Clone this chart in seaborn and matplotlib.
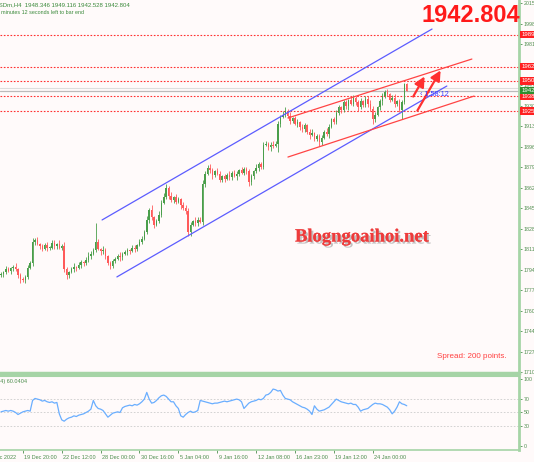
import numpy as np
import pandas as pd
import matplotlib
matplotlib.use('Agg')
import matplotlib.pyplot as plt
import matplotlib.transforms as mtrans
import matplotlib.patheffects as pe
import seaborn as sns

# --- data ---
symbol_line = "XAUUSDm,H4  1948.346 1949.116 1942.528 1942.804"
timer_line = "1 hours 58 minutes 12 seconds left to bar end"
rsi_label = "RSI(14) 60.0404"
last_price = 1942.804
ask_price = 1944.804
first_open = 1790.0

closes = [1791, 1793, 1795, 1794, 1796, 1797, 1795, 1790, 1787, 1786, 1789, 1796, 1800, 1818,
          1819, 1816, 1814, 1812, 1815, 1813, 1813, 1817, 1814, 1816, 1813, 1814,
          1795,
          1790, 1793, 1795, 1797, 1796, 1799, 1801, 1800, 1803, 1806, 1808, 1811,
          1818,
          1812, 1810, 1811, 1806, 1800, 1798,
          1802, 1804, 1806, 1805, 1808, 1809, 1811, 1810, 1813, 1812, 1815, 1818, 1820,
          1826, 1836, 1844, 1838, 1832, 1835, 1840, 1850, 1855,
          1862,
          1856, 1852, 1855, 1851, 1853, 1848, 1846, 1843,
          1826,
          1832, 1835, 1833, 1836, 1834,
          1866, 1874, 1879, 1877,
          1873, 1876, 1874, 1869, 1872, 1870, 1873, 1871, 1875, 1872, 1874, 1877, 1875, 1878, 1876,
          1867,
          1872, 1876, 1879, 1882, 1880,
          1898,
          1899, 1896, 1898, 1897, 1899,
          1915,
          1921, 1923, 1926,
          1922, 1918, 1920, 1915, 1917, 1913, 1911,
          1914, 1909, 1906, 1908, 1903, 1905, 1900,
          1904, 1909, 1907, 1913, 1919, 1917, 1924, 1929, 1927, 1933,
          1930, 1935, 1932, 1937, 1933, 1929, 1934, 1931, 1936, 1932, 1928,
          1919,
          1923, 1929, 1934, 1938, 1942, 1940, 1935, 1937, 1932, 1934, 1927, 1933, 1948.346, 1942.804]

wick_up = [2, 1, 3, 2, 1, 2, 3, 1, 2, 2, 1, 3, 2, 3,
           2, 3, 1, 2, 2, 3, 1, 2, 2, 1, 3, 2,
           4,
           2, 1, 2, 3, 1, 2, 2, 1, 2, 3, 2, 2,
           15,
           2, 1, 3, 2, 1, 2,
           2, 1, 2, 3, 1, 2, 2, 1, 2, 2, 1, 2, 3,
           2, 3, 2, 4, 1, 2, 3, 2, 3,
           4,
           2, 3, 1, 2, 2, 1, 3, 2,
           3,
           2, 1, 3, 2, 2,
           3, 2, 2, 3,
           2, 1, 3, 2, 1, 2, 2, 3, 1, 2, 2, 1, 3, 2, 2,
           2,
           2, 1, 3, 2, 2,
           2,
           2, 1, 2, 3, 2,
           3,
           2, 3, 3,
           2, 3, 1, 2, 2, 1, 2,
           2, 1, 2, 3, 1, 2, 2,
           2, 1, 3, 2, 1, 2, 3, 2, 1, 2,
           2, 1, 3, 2, 1, 2, 3, 1, 2, 2, 3,
           2,
           2, 1, 2, 3, 1, 2, 1, 2, 3, 1, 2, 2, 1, 0.77]

wick_dn = [1, 2, 2, 1, 3, 2, 1, 2, 3, 1, 2, 2, 1, 2,
           3, 1, 2, 2, 1, 3, 2, 1, 2, 2, 1, 2,
           2,
           3, 2, 1, 2, 2, 1, 3, 2, 1, 2, 2, 1,
           2,
           1, 3, 2, 2, 1, 3,
           2, 2, 1, 3, 2, 1, 2, 2, 1, 3, 2, 1, 2,
           1, 2, 3, 2, 3, 1, 2, 2, 1,
           2,
           3, 1, 2, 2, 1, 3, 2, 2,
           3,
           3, 1, 2, 2, 1,
           2, 3, 1, 2,
           3, 2, 1, 2, 2, 3, 1, 2, 2, 1, 3, 2, 1, 2, 2,
           3,
           2, 2, 1, 3, 2,
           2,
           1, 2, 3, 2, 1,
           7,
           2, 1, 2,
           2, 3, 2, 1, 2, 3, 2,
           2, 2, 3, 1, 2, 2, 3,
           2, 1, 2, 3, 1, 2, 2, 1, 3, 2,
           2, 3, 1, 2, 2, 3, 1, 2, 2, 3, 2,
           4,
           2, 1, 2, 3, 1, 2, 2, 1, 3, 2, 2, 8, 1, 0.28]

rsi = [51, 52, 53, 52, 53, 52, 50, 47,
       49, 51, 52, 53, 52,
       68, 71, 70, 69, 67, 68, 66, 65, 66, 64, 65,
       48, 39, 37,
       40, 42, 43, 45, 44, 46, 47, 48,
       50, 52, 55,
       68, 60, 56, 55, 53, 48, 43,
       46, 49, 50, 51, 50,
       57, 59, 60, 61, 60, 62, 61,
       63, 66, 70,
       80, 70, 64, 65, 68, 72, 75, 76, 74, 70, 66,
       66, 60, 56, 45, 43,
       47, 50, 52, 50, 51, 53,
       68, 67, 66, 65, 64, 63, 64, 64,
       65, 66, 67, 66, 67,
       68, 69, 70, 69, 66,
       56, 60, 64, 66, 67, 68, 70, 69, 71,
       76, 77, 80, 85, 84, 82, 83, 76, 71,
       70, 69, 66, 64,
       62, 60, 58, 57, 55, 52,
       47, 60, 55, 52,
       53, 54, 56, 58, 62, 66,
       70, 68, 66, 65, 64, 63, 64, 62, 62, 58, 52, 54, 55, 56, 59, 62,
       64, 63, 63, 62, 60, 58, 54, 48, 52, 58, 66, 63, 62, 60.04]

levels = [1989.0, 1962.6, 1950.9, 1938.0, 1925.9]
price_ticks = [1710.10, 1727.05, 1744.00, 1760.95, 1777.90, 1794.85, 1811.80, 1828.75,
               1845.70, 1862.65, 1879.60, 1896.55, 1913.50, 1930.45, 1947.40, 1964.35,
               1981.30, 1998.25, 2015.20]
rsi_ticks = [0, 30, 50, 70, 100]
rsi_grid = [30, 50, 70]

date_labels = ["16 Dec 2022", "19 Dec 20:00", "22 Dec 12:00", "28 Dec 00:00", "30 Dec 16:00",
               "5 Jan 04:00", "9 Jan 16:00", "12 Jan 08:00", "16 Jan 23:00", "19 Jan 12:00",
               "24 Jan 00:00"]
date_bars = [-7, 9, 25, 41, 57, 73, 89, 105, 121, 137, 153]

# trend lines as (bars, prices)
blue_upper = ([41.6, 177.4], [1835.9, 1993.7])
blue_lower = ([47.7, 183.5], [1788.8, 1946.6])
red_upper = ([118.1, 193.8], [1920.2, 1968.9])
red_lower = ([118.1, 194.7], [1887.9, 1938.3])
arrows = [((169.1, 1935.9), (174.9, 1956.5)), ((170.8, 1924.3), (181.5, 1961.5))]

# --- frame ---
n = len(closes)
df = pd.DataFrame({'bar': np.arange(n), 'close': closes, 'rsi': rsi})
df['open'] = [first_open] + closes[:-1]
df['high'] = df[['open', 'close']].max(axis=1) + np.array(wick_up)
df['low'] = df[['open', 'close']].min(axis=1) - np.array(wick_dn)
df['bull'] = df['close'] >= df['open']

# --- style ---
sns.set_theme(style='white')
bg = '#fffafa'
axis_green = '#a6d4a6'
label_green = '#4e8e4e'
plt.rcParams['font.family'] = ['Liberation Sans', 'DejaVu Sans']

W, H = 534, 462
fig = plt.figure(figsize=(W / 100, H / 100), dpi=100, facecolor=bg)
ax = fig.add_axes([0, 89 / H, 519 / W, 373 / H], facecolor=bg)
rax = fig.add_axes([0, 12 / H, 519 / W, 74 / H], facecolor=bg)

def fx(px):
    return px / W

def fy(py):
    return 1 - py / H

# --- candles ---
bull_c, bear_c = '#4a9e4a', '#ff5a5a'
cols = np.where(df['bull'], bull_c, bear_c)
ax.vlines(df['bar'], df['low'], df['high'], colors=cols, lw=0.6, zorder=3)
ax.bar(df['bar'], (df['close'] - df['open']).abs().clip(lower=0.4),
       bottom=df[['open', 'close']].min(axis=1), width=0.6, color=cols,
       linewidth=0, zorder=3)

# horizontal levels
for lv in levels:
    ax.axhline(lv, color='#ff3030', ls=(0, (1.5, 1.5)), lw=0.8, zorder=2)
ax.axhline(ask_price, color='#dddddd', lw=0.8, zorder=2)
ax.axhline(last_price, color='#bbbbbb', lw=0.9, zorder=2)

# channels
for xs, ys in (blue_upper, blue_lower):
    ax.plot(xs, ys, color='#5c5cff', lw=0.9, zorder=4)
for xs, ys in (red_upper, red_lower):
    ax.plot(xs, ys, color='#ff4444', lw=0.9, zorder=4)
for start, end in arrows:
    ax.annotate('', xy=end, xytext=start,
                arrowprops=dict(arrowstyle='-|>,head_length=0.5,head_width=0.25',
                                color='#ff3030', lw=1.6), zorder=5)

ax.text(172.5, 1939.3, '\u2039 1:58:12', color='#3a3aff', fontsize=5.2,
        va='center', ha='left', zorder=6)

ax.set_xlim(-0.41, 213.2)
ax.set_ylim(1709.4, 2017.7)
ax.set_xticks([])
ax.yaxis.tick_right()
ax.set_yticks(price_ticks)
ax.set_yticklabels([f"{t:.2f}" for t in price_ticks])
ax.tick_params(axis='y', length=2, width=0.6, color=label_green, labelsize=3.8,
               labelcolor=label_green, pad=1.5, right=True)
for s in ['top', 'left']:
    ax.spines[s].set_visible(False)
ax.spines['right'].set_color(axis_green)
ax.spines['right'].set_linewidth(2)
ax.spines['bottom'].set_color(axis_green)
ax.spines['bottom'].set_linewidth(2.5)

# price boxes on the axis
tr = mtrans.blended_transform_factory(ax.transAxes, ax.transData)
for lv in levels:
    ax.text(1.005, lv, f"{lv:.2f}", transform=tr, fontsize=4.3, color='white',
            va='center', ha='left', zorder=7,
            bbox=dict(boxstyle='square,pad=0.2', fc='#ff2020', ec='none'))
ax.text(1.005, last_price, f"{last_price:.2f}", transform=tr, fontsize=4.3, color='white',
        va='center', ha='left', zorder=7,
        bbox=dict(boxstyle='square,pad=0.2', fc='#2f8f2f', ec='none'))

# --- RSI panel ---
sns.lineplot(data=df, x='bar', y='rsi', ax=rax, color='#6aaeff', lw=0.9)
for g in rsi_grid:
    rax.axhline(g, color='#cccccc', ls=(0, (2, 2)), lw=0.6, zorder=1)
rax.set_xlim(-0.41, 213.2)
rax.set_ylim(-6, 104.5)
rax.set_xlabel('')
rax.set_ylabel('')
rax.yaxis.tick_right()
rax.set_yticks(rsi_ticks)
rax.set_yticklabels([str(t) for t in rsi_ticks])
rax.tick_params(axis='y', length=2, width=0.6, color=label_green, labelsize=3.8,
                labelcolor=label_green, pad=1.5, right=True)
rax.set_xticks(date_bars[1:])
rax.set_xticklabels([])
rax.tick_params(axis='x', length=2.5, width=0.6, color=label_green, bottom=True, direction='out')
rax.spines['left'].set_visible(False)
rax.spines['top'].set_color(axis_green)
rax.spines['top'].set_linewidth(1.5)
rax.spines['right'].set_color(axis_green)
rax.spines['right'].set_linewidth(2)
rax.spines['bottom'].set_color(axis_green)
rax.spines['bottom'].set_linewidth(1.2)

trx = mtrans.blended_transform_factory(rax.transData, rax.transAxes)
for b, lab in zip(date_bars, date_labels):
    rax.text(b + 0.6, -0.07, lab, transform=trx, fontsize=4.0, color=label_green,
             ha='left', va='top', clip_on=False)

fig.text(fx(27), fy(381), rsi_label, fontsize=4.0, color=label_green, ha='right', va='center')

# --- header and overlays ---
fig.text(fx(130), fy(4.5), symbol_line, fontsize=4.3, color='#3b8a3b', ha='right', va='center')
fig.text(fx(84), fy(12.5), timer_line, fontsize=3.9, color='#3b8a3b', ha='right', va='center')
fig.text(fx(471), fy(15), f"{last_price:.3f}", fontsize=17, color='#ff1a1a',
         fontweight='bold', ha='center', va='center')
wm = fig.text(fx(362), fy(237), 'Blogngoaihoi.net', fontsize=13.4, color='#ee3b3b',
              fontweight='bold', family=['Liberation Serif', 'DejaVu Serif'],
              ha='center', va='center')
wm.set_path_effects([pe.withSimplePatchShadow(offset=(1.5, -1.5), shadow_rgbFace='#888888',
                                              alpha=0.5), pe.Normal()])
fig.text(fx(507), fy(356), 'Spread: 200 points.', fontsize=5.8, color='#ff4040',
         ha='right', va='center')

fig.savefig('out.png', dpi=100, facecolor=bg)
